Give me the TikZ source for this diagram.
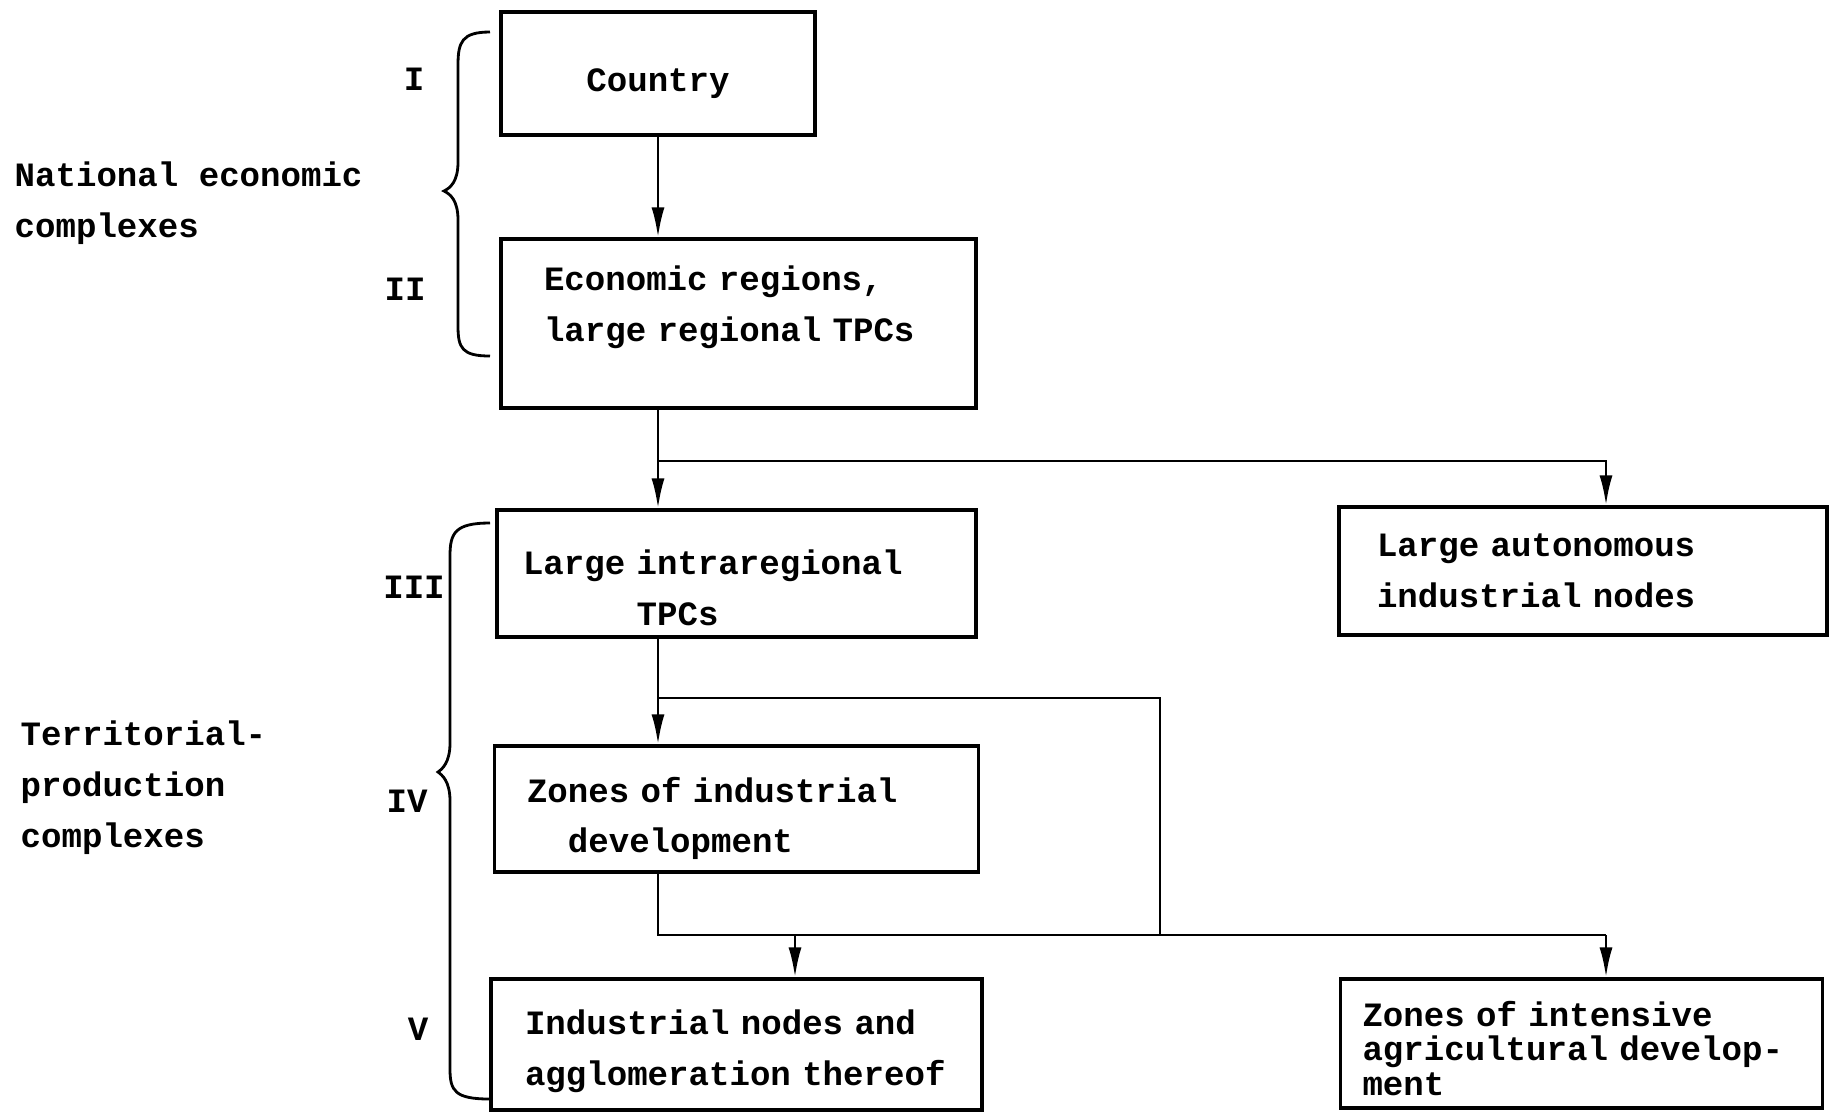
\documentclass[tikz,border=0pt]{standalone}
\usepackage{fontspec}
\setmainfont{Liberation Mono}
\usepackage{tikz}
\usetikzlibrary{shapes}
\usetikzlibrary{arrows.meta}
\newcommand{\typefont}{\fontsize{9.7pt}{14.5pt}\selectfont\bfseries}
\tikzstyle{unit} = [rectangle, draw=black, line width=0.9pt, font=\typefont, align=left, inner xsep=0pt, inner ysep=0pt]
\tikzstyle{numeral} = [font=\typefont, inner sep=0pt]
\tikzstyle{caption} = [font=\typefont, align=left, anchor=west, inner sep=0pt]
\tikzstyle{link} = [line width=0.8pt]
\tikzstyle{arrow} = [line width=0.8pt, -{Latex[length=3mm,width=1.3mm]}]
\tikzstyle{brace} = [line width=0.8pt]

\begin{document}
\begin{tikzpicture}[node distance=2.5cm]
    \useasboundingbox (0,0) rectangle (18.3,-11.16);

    \node(country)[unit, align=center, minimum width=3.14cm, minimum height=1.23cm, text height=0.43cm] at (6.58,-0.735) {Country};
    \node(econ)[unit, below of=country, xshift=0.805cm, minimum width=4.75cm, minimum height=1.69cm,
      text width=3.89cm, text depth=0.9cm]{Economic regions,\\large regional TPCs};
    \node(intra)[unit, below of=econ, xshift=-0.02cm, minimum width=4.79cm, minimum height=1.27cm,
      text width=4.27cm, text height=0.6cm]{Large intraregional\\\phantom{Large }TPCs};
    \node(auton)[unit, below of=econ, xshift=8.445cm, yshift=0.025cm, minimum width=4.88cm, minimum height=1.28cm,
      text width=4.12cm]{Large autonomous\\industrial nodes};
    \node(zones)[unit, below of=intra, yshift=0.145cm, minimum width=4.84cm, minimum height=1.26cm,
      text width=4.19cm, text height=0.44cm]{Zones of industrial\\\phantom{Zo}development};
    \node(indnodes)[unit, below of=zones, yshift=0.145cm, minimum width=4.91cm, minimum height=1.31cm,
      text width=4.23cm, text height=0.38cm]{Industrial nodes and\\agglomeration thereof};
    \node(agri)[unit, below of=zones, xshift=8.45cm, yshift=0.155cm, minimum width=4.82cm, minimum height=1.29cm,
      text width=4.38cm, text height=0.35cm, font={\fontsize{9.7pt}{9.8pt}\selectfont\bfseries}]{Zones of intensive\\agricultural develop-\\ment};

    % levels
    \node(lvI)[numeral] at (4.14,-0.79) {I};
    \node(lvII)[numeral] at (4.05,-2.89) {II};
    \node(lvIII)[numeral] at (4.14,-5.87) {III};
    \node(lvIV)[numeral] at (4.07,-8.01) {IV};
    \node(lvV)[numeral] at (4.18,-10.29) {V};

    \node(national)[caption] at (0.14,-2.03) {National economic\\complexes};
    \node(territorial)[caption] at (0.20,-7.88) {Territorial-\\production\\complexes};

    \draw[brace] (4.9,-0.32) .. controls (4.62,-0.32) and (4.58,-0.42) .. (4.58,-0.65) -- (4.58,-1.62)
      .. controls (4.58,-1.82) and (4.5,-1.88) .. (4.44,-1.91) .. controls (4.5,-1.94) and (4.58,-2.0) .. (4.58,-2.2)
      -- (4.58,-3.26) .. controls (4.58,-3.48) and (4.62,-3.56) .. (4.9,-3.56);
    \draw[brace] (4.9,-5.23) .. controls (4.55,-5.23) and (4.5,-5.33) .. (4.5,-5.56) -- (4.5,-7.43)
      .. controls (4.5,-7.63) and (4.42,-7.69) .. (4.38,-7.72) .. controls (4.42,-7.75) and (4.5,-7.81) .. (4.5,-8.01)
      -- (4.5,-10.69) .. controls (4.5,-10.91) and (4.55,-10.99) .. (4.9,-10.99);

    % connectors
    \coordinate (j1) at (6.58,-4.61);
    \coordinate (j2) at (16.06,-4.61);
    \coordinate (j3) at (6.58,-6.98);
    \coordinate (j4) at (11.60,-6.98);
    \coordinate (j5) at (11.60,-9.35);
    \coordinate (j7) at (7.95,-9.35);
    \coordinate (j8) at (16.06,-9.35);

    \draw[arrow] (country.south) -- (country.south |- econ.north);
    \draw[arrow] (econ.south -| country.south) -- (country.south |- intra.north);
    \draw[arrow] (j1) -- (j2) -- (j2 |- auton.north);
    \draw[arrow] (intra.south -| country.south) -- (country.south |- zones.north);
    \draw[link] (j3) -- (j4) -- (j5);
    \draw[link] (zones.south -| country.south) |- (j8);
    \draw[arrow] (j7) -- (j7 |- indnodes.north);
    \draw[arrow] (j8) -- (j8 |- agri.north);

\end{tikzpicture}
\end{document}
